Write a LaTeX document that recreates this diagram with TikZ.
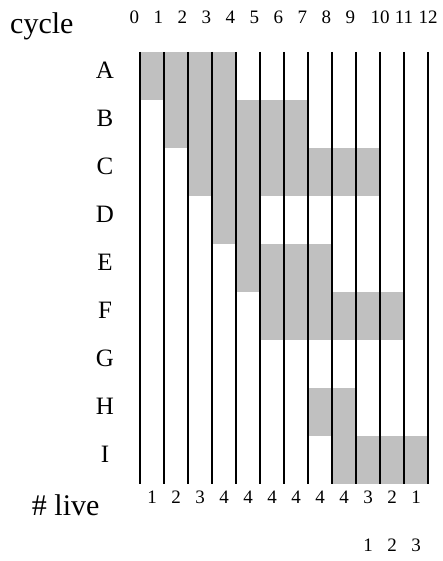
\documentclass[tikz,border=0pt]{standalone}
\usepackage{fontspec}
\setmainfont{Liberation Serif}
\usepackage{xcolor}
\definecolor{livegray}{RGB}{192,192,192}

\begin{document}
\begin{tikzpicture}[x=24pt,y=-48pt,
    livebar/.style={fill=livegray},
    cycline/.style={line width=2.4pt},
    bigtxt/.style={inner sep=0pt,font=\fontsize{30}{34}\selectfont},
    rowtxt/.style={inner sep=0pt,anchor=base,font=\fontsize{25}{28}\selectfont},
    numtxt/.style={inner sep=0pt,anchor=base,font=\fontsize{19}{22}\selectfont}]
  \useasboundingbox (-5.8333,-1.0833) rectangle (12.625,10.6042);
  % live ranges
  \foreach \r/\a/\b in {0/0/4,1/1/7,2/2/10,3/3/5,4/4/8,5/5/11,7/7/9,8/8/12}
    \fill[livebar] ({\a},{\r}) rectangle ({\b},{\r+1});
  % cycle lines
  \foreach \i in {0,...,12}
    \draw[cycline] (\i,0) -- (\i,9);
  % header
  \node[bigtxt,anchor=base west] (cyc) at (-5.417,-0.39) {cycle};
  \foreach \i in {0,...,9}
    \node[numtxt] (t\i) at ({\i-0.23},-0.598) {\i};
  \foreach \i in {10,11,12}
    \node[numtxt] (t\i) at (\i,-0.598) {\i};
  % variables
  \foreach \v [count=\r from 0] in {A,B,C,D,E,F,G,H,I}
    \node[rowtxt] (row\v) at (-1.46,{\r+0.548}) {\v};
  % live count
  \node[bigtxt,anchor=base west] (live) at (-4.51,9.646) {\# live};
  \foreach \n [count=\c from 0] in {1,2,3,4,4,4,4,4,4,3,2,1}
    \node[numtxt] (n\c) at ({\c+0.5},9.406) {\n};
  \foreach \n in {1,2,3}
    \node[numtxt] (s\n) at ({\n+8.5},10.41) {\n};
\end{tikzpicture}
\end{document}
